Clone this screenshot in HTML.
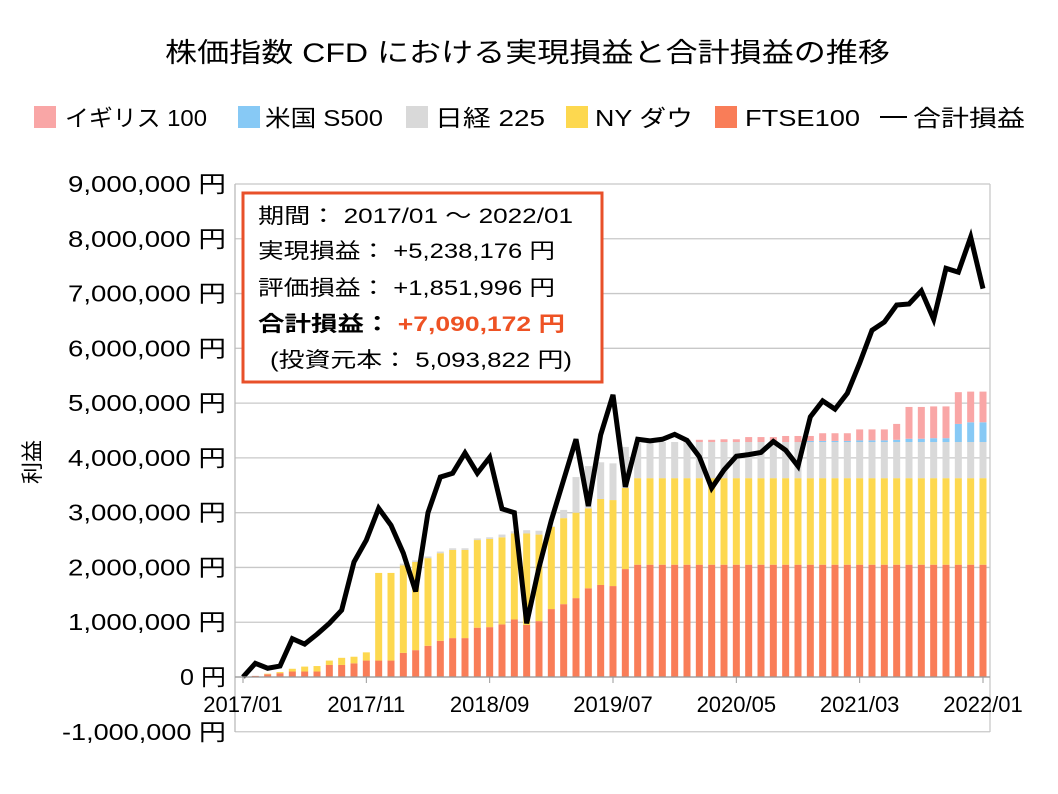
<!DOCTYPE html>
<html><head><meta charset="utf-8"><style>
body{margin:0;background:#fff;}
svg{display:block;font-family:"Liberation Sans","Noto Sans CJK JP",sans-serif;}
</style></head><body>
<svg id="chart" width="1058" height="794" viewBox="0 0 1058 794">
<text x="165" y="62" font-size="27" textLength="725" lengthAdjust="spacingAndGlyphs" fill="#000">株価指数 CFD における実現損益と合計損益の推移</text>
<g id="legend" font-size="23" fill="#000">
<g><rect x="34" y="106" width="22" height="22" fill="#f9a6a6"/><text x="65" y="126" textLength="142" lengthAdjust="spacingAndGlyphs">イギリス 100</text></g>
<g><rect x="238" y="106" width="22" height="22" fill="#87c9f5"/><text x="265" y="126" textLength="118" lengthAdjust="spacingAndGlyphs">米国 S500</text></g>
<g><rect x="406" y="106" width="22" height="22" fill="#d9d9d9"/><text x="435" y="126" textLength="110" lengthAdjust="spacingAndGlyphs">日経 225</text></g>
<g><rect x="566" y="106" width="22" height="22" fill="#fdd84f"/><text x="595" y="126" textLength="98" lengthAdjust="spacingAndGlyphs">NY ダウ</text></g>
<g><rect x="715" y="106" width="22" height="22" fill="#f97d58"/><text x="745" y="126" textLength="115" lengthAdjust="spacingAndGlyphs">FTSE100</text></g>
<g><line x1="880" y1="117" x2="907" y2="117" stroke="#000" stroke-width="2"/><text x="913" y="126" textLength="112" lengthAdjust="spacingAndGlyphs">合計損益</text></g>
</g>
<text transform="translate(40,462) rotate(-90)" font-size="22" text-anchor="middle">利益</text>
<g id="grid"></g>
<g id="bars"></g>
<g id="line"></g>
<g id="axes"></g>
<g>
<rect x="243" y="193" width="359" height="189" fill="#fff" stroke="#e8502a" stroke-width="3"/>
<g font-size="21" fill="#000">
<text x="258" y="223" textLength="315" lengthAdjust="spacingAndGlyphs">期間： 2017/01 ～ 2022/01</text>
<text x="258" y="258" textLength="297" lengthAdjust="spacingAndGlyphs">実現損益： +5,238,176 円</text>
<text x="258" y="295" textLength="297" lengthAdjust="spacingAndGlyphs">評価損益： +1,851,996 円</text>
<text x="258" y="331" font-weight="bold" textLength="307" lengthAdjust="spacingAndGlyphs">合計損益： <tspan fill="#ee5224">+7,090,172 円</tspan></text>
<text x="270" y="367" textLength="302" lengthAdjust="spacingAndGlyphs">(投資元本： 5,093,822 円)</text>
</g></g>
</svg>
<script>
const months = ["2017/01","2017/11","2018/09","2019/07","2020/05","2021/03","2022/01"];
const yTicks = [-1,0,1,2,3,4,5,6,7,8,9];
const ftse = [0,0.02,0.05,0.07,0.1,0.1,0.1,0.22,0.22,0.25,0.3,0.3,0.3,0.44,0.49,0.57,0.66,0.71,0.71,0.9,0.91,0.96,1.05,0.95,1.02,1.24,1.33,1.44,1.62,1.68,1.66,1.97,2.05,2.05,2.05,2.05,2.05,2.05,2.05,2.05,2.05,2.05,2.05,2.05,2.05,2.05,2.05,2.05,2.05,2.05,2.05,2.05,2.05,2.05,2.05,2.05,2.05,2.05,2.05,2.05,2.05];
const dow = [0,0,0.01,0.02,0.05,0.09,0.1,0.08,0.13,0.12,0.15,1.6,1.6,1.6,1.61,1.6,1.6,1.61,1.61,1.6,1.61,1.59,1.57,1.67,1.58,1.5,1.57,1.56,1.46,1.57,1.57,1.48,1.58,1.58,1.58,1.58,1.58,1.58,1.58,1.58,1.58,1.58,1.58,1.58,1.58,1.58,1.58,1.58,1.58,1.58,1.58,1.58,1.58,1.58,1.58,1.58,1.58,1.58,1.58,1.58,1.58];
const nikkei = [0,0,0,0,0,0,0,0,0,0,0,0,0,0.03,0.03,0.03,0.03,0.03,0.03,0.03,0.03,0.05,0.04,0.06,0.07,0.01,0.15,0.65,0.77,0.67,0.67,0.75,0.64,0.66,0.66,0.66,0.66,0.66,0.66,0.66,0.66,0.66,0.66,0.66,0.66,0.66,0.66,0.66,0.66,0.66,0.66,0.66,0.66,0.66,0.66,0.66,0.66,0.66,0.66,0.66,0.66];
const us500 = [0,0,0,0,0,0,0,0,0,0,0,0,0,0,0,0,0,0,0,0,0,0,0,0,0,0,0,0,0,0,0,0,0,0,0,0,0,0,0,0,0,0,0,0,0,0,0.02,0.02,0.02,0.02,0.03,0.03,0.03,0.04,0.06,0.06,0.07,0.07,0.33,0.36,0.36];
const uk100 = [0,0,0,0,0,0,0,0,0,0,0,0,0,0,0,0,0,0,0,0,0,0,0,0,0,0,0,0,0,0,0,0,0,0,0,0,0.04,0.04,0.04,0.05,0.05,0.09,0.09,0.09,0.11,0.11,0.09,0.14,0.14,0.14,0.2,0.2,0.2,0.29,0.58,0.58,0.58,0.58,0.58,0.56,0.56];
const total = [0,0.25,0.16,0.2,0.7,0.6,0.78,0.98,1.22,2.1,2.5,3.08,2.77,2.26,1.56,3.0,3.65,3.72,4.09,3.72,4.01,3.07,3.0,0.98,2.0,2.86,3.6,4.34,3.12,4.42,5.15,3.47,4.34,4.31,4.34,4.43,4.32,4.02,3.45,3.78,4.03,4.06,4.1,4.3,4.14,3.85,4.75,5.04,4.89,5.18,5.73,6.33,6.48,6.79,6.81,7.05,6.53,7.46,7.39,8.03,7.09];

const NS="http://www.w3.org/2000/svg";
const L=235,R=990,T=184,B=732;
const x=i=>243+i*(983-243)/60;
const y=v=>677-v*(677-184)/9;
function mk(tag,attrs,parent){const e=document.createElementNS(NS,tag);for(const k in attrs)e.setAttribute(k,attrs[k]);parent.appendChild(e);return e;}
const grid=document.getElementById('grid'),axes=document.getElementById('axes'),bars=document.getElementById('bars'),lineG=document.getElementById('line');
yTicks.forEach(v=>{
  const g=mk('line',{x1:L,x2:R,y1:y(v),y2:y(v),stroke:'#c8c8c8','stroke-width':1.3},grid);
  
  
  const label=(v*1000000).toLocaleString('en-US')+' 円';
  const w=v===0?46:(v<0?164:158);
  const t=mk('text',{x:226-w,y:y(v)+8,'font-size':23,textLength:w,lengthAdjust:'spacingAndGlyphs'},axes);
  t.textContent=label;
  
  
});
const rb=mk('line',{x1:R,x2:R,y1:T,y2:B,stroke:'#c8c8c8','stroke-width':1.3},grid);


const la=mk('line',{x1:L,x2:L,y1:T,y2:B,stroke:'#bbb','stroke-width':1.3},axes);


const xa=mk('line',{x1:L,x2:R,y1:y(0),y2:y(0),stroke:'#999','stroke-width':1.3},axes);


months.forEach((m,k)=>{
  const i=k*10;
  const tk=mk('line',{x1:x(i),x2:x(i),y1:y(0),y2:y(0)+6,stroke:'#999'},axes);
  
  
  const t=mk('text',{x:x(i),y:712,'font-size':22,'text-anchor':'middle'},axes);
  t.textContent=m;
  
  
});
const series=[[ftse,'#f97d58','ftse100'],[dow,'#fdd84f','ny-dow'],[nikkei,'#d9d9d9','nikkei225'],[us500,'#87c9f5','us500'],[uk100,'#f9a6a6','uk100']];
total.forEach((_,i)=>{
  let base=0;
  series.forEach(([arr,col,nm])=>{
    const v=arr[i];
    if(v>0){
      const r=mk('rect',{x:x(i)-3.5,y:y(base+v),width:7,height:y(base)-y(base+v),fill:col},bars);
      
      
    }
    base+=v;
  });
});
const pl=mk('polyline',{points:total.map((v,i)=>x(i)+','+y(v)).join(' '),fill:'none',stroke:'#000','stroke-width':5,'stroke-linejoin':'miter'},lineG);


</script>
</body></html>
